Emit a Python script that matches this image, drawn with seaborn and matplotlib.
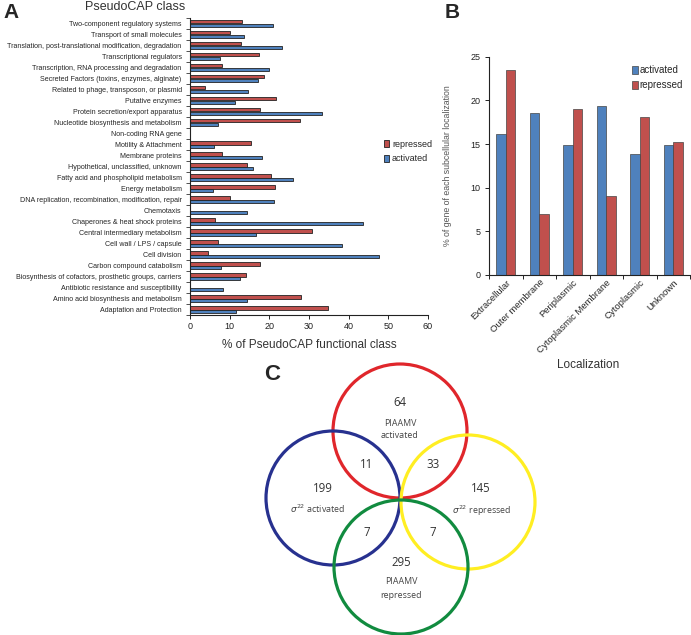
import matplotlib
matplotlib.use("Agg")
import matplotlib.pyplot as plt
from matplotlib.patches import Circle
from matplotlib.ticker import FixedLocator, NullFormatter
import seaborn as sns
import pandas as pd
import numpy as np

# ---------------- data ----------------
categories_A = [
    "Two-component regulatory systems",
    "Transport of small molecules",
    "Translation, post-translational modification, degradation",
    "Transcriptional regulators",
    "Transcription, RNA processing and degradation",
    "Secreted Factors (toxins, enzymes, alginate)",
    "Related to phage, transposon, or plasmid",
    "Putative enzymes",
    "Protein secretion/export apparatus",
    "Nucleotide biosynthesis and metabolism",
    "Non-coding RNA gene",
    "Motility & Attachment",
    "Membrane proteins",
    "Hypothetical, unclassified, unknown",
    "Fatty acid and phospholipid metabolism",
    "Energy metabolism",
    "DNA replication, recombination, modification, repair",
    "Chemotaxis",
    "Chaperones & heat shock proteins",
    "Central intermediary metabolism",
    "Cell wall / LPS / capsule",
    "Cell division",
    "Carbon compound catabolism",
    "Biosynthesis of cofactors, prosthetic groups, carriers",
    "Antibiotic resistance and susceptibility",
    "Amino acid biosynthesis and metabolism",
    "Adaptation and Protection",
]
repressed_A = [13.0, 10.0, 12.8, 17.3, 8.0, 18.6, 3.7, 21.6, 17.6, 27.7, 0.0,
               15.3, 8.0, 14.3, 20.3, 21.4, 10.0, 0.0, 6.3, 30.7, 7.0, 4.5,
               17.6, 14.1, 0.0, 28.1, 34.9]
activated_A = [21.0, 13.5, 23.1, 7.6, 20.0, 17.1, 14.5, 11.3, 33.2, 7.0, 0.0,
               6.1, 18.1, 15.8, 25.9, 5.7, 21.2, 14.3, 43.6, 16.6, 38.2, 47.7,
               7.7, 12.5, 8.3, 14.3, 11.6]
xticks_A = [0, 10, 20, 30, 40, 50, 60]

localization_B = ["Extracellular", "Outer membrane", "Periplasmic",
                  "Cytoplasmic Membrane", "Cytoplasmic", "Unknown"]
activated_B = [16.1, 18.6, 14.9, 19.35, 13.8, 14.85]
repressed_B = [23.5, 7.0, 19.05, 9.0, 18.15, 15.2]
yticks_B = [0, 5, 10, 15, 20, 25]

venn_counts = {"PIAAMV activated": 64, "sigma activated": 199,
               "sigma repressed": 145, "PIAAMV repressed": 295,
               "blue&red": 11, "red&yellow": 33, "blue&green": 7,
               "green&yellow": 7}

# ---------------- style ----------------
sns.set_theme(style="white")
plt.rcParams["font.family"] = ["Liberation Sans", "DejaVu Sans"]

BLUE = "#4F81BD"
RED = "#C0504D"
W, H = 691, 635
fig = plt.figure(figsize=(W / 100, H / 100), dpi=100)


def fx(px):
    return px / W


def fy(py):
    return 1 - py / H


# ---------------- Panel A ----------------
dfA = pd.DataFrame({
    "category": categories_A * 2,
    "value": repressed_A + activated_A,
    "group": ["repressed"] * len(categories_A) + ["activated"] * len(categories_A),
})
axA = fig.add_axes([fx(190), fy(315), (428 - 190) / W, (315 - 18) / H])
sns.barplot(data=dfA, y="category", x="value", hue="group",
            hue_order=["repressed", "activated"],
            palette={"repressed": RED, "activated": BLUE}, saturation=1,
            orient="h", width=0.72, edgecolor="#222222", linewidth=0.6,
            ax=axA, legend=True)
axA.set_xlim(0, 60)
axA.set_xticks(xticks_A)
axA.set_xticklabels([str(t) for t in xticks_A], fontsize=6.5)
axA.tick_params(axis="x", direction="out", length=3, width=0.7, pad=2,
                bottom=True, colors="#222222")
axA.tick_params(axis="y", which="major", length=0, pad=6, labelsize=5.1)
axA.yaxis.set_minor_locator(FixedLocator(np.arange(-0.5, len(categories_A), 1.0)))
axA.yaxis.set_minor_formatter(NullFormatter())
axA.tick_params(axis="y", which="minor", direction="out", length=3, width=0.6,
                left=True, color="#333333")
axA.set_ylabel("")
axA.set_xlabel("% of PseudoCAP functional class", fontsize=8.5, labelpad=6,
               color="#333333")
for s in ["top", "right"]:
    axA.spines[s].set_visible(False)
for s in ["left", "bottom"]:
    axA.spines[s].set_color("#222222")
    axA.spines[s].set_linewidth(0.8)
axA.grid(False)
legA = axA.legend(loc="center left", bbox_to_anchor=(0.78, 0.55), frameon=False,
                  fontsize=6.5, handlelength=0.6, handleheight=0.8,
                  handletextpad=0.3, labelspacing=0.6)
for h in legA.legend_handles:
    h.set_edgecolor("#222222")
    h.set_linewidth(0.6)

fig.text(fx(135), fy(7), "PseudoCAP class", fontsize=9, ha="center",
         va="center", color="#333333")
fig.text(fx(3), fy(12), "A", fontsize=15, fontweight="bold", ha="left",
         va="center")

# ---------------- Panel B ----------------
dfB = pd.DataFrame({
    "loc": localization_B * 2,
    "value": activated_B + repressed_B,
    "group": ["activated"] * len(localization_B) + ["repressed"] * len(localization_B),
})
axB = fig.add_axes([fx(489), fy(275), (690 - 489) / W, (275 - 56.7) / H])
sns.barplot(data=dfB, x="loc", y="value", hue="group",
            hue_order=["activated", "repressed"],
            palette={"activated": BLUE, "repressed": RED}, saturation=1,
            width=0.58, edgecolor="#444444", linewidth=0.5, ax=axB, legend=True)
axB.set_ylim(0, 25)
axB.set_yticks(yticks_B)
axB.set_yticklabels([str(t) for t in yticks_B], fontsize=6.5)
axB.tick_params(axis="y", direction="out", length=3, width=0.7, left=True,
                pad=3, colors="#222222")
axB.tick_params(axis="x", which="major", length=0, pad=2)
axB.xaxis.set_minor_locator(FixedLocator(np.arange(-0.5, len(localization_B), 1.0)))
axB.xaxis.set_minor_formatter(NullFormatter())
axB.tick_params(axis="x", which="minor", direction="out", length=3, width=0.7,
                bottom=True, color="#222222")
axB.set_xticks(range(len(localization_B)))
axB.set_xticklabels(localization_B, rotation=45, ha="right",
                    rotation_mode="anchor", fontsize=6.8)
axB.set_xlabel("Localization", fontsize=8.5, color="#333333", labelpad=0)
axB.xaxis.set_label_coords((588 - 489) / (690 - 489), -(359 - 275) / (275 - 56.7))
axB.set_ylabel("% of gene of each subcellular localization", fontsize=6.3,
               color="#555555")
axB.yaxis.set_label_coords(-(489 - 452) / (690 - 489), 0.5)
for s in ["top", "right"]:
    axB.spines[s].set_visible(False)
for s in ["left", "bottom"]:
    axB.spines[s].set_color("#222222")
    axB.spines[s].set_linewidth(0.8)
axB.grid(False)
legB = axB.legend(loc="upper left", bbox_to_anchor=((623 - 489) / 201, 1.0),
                  frameon=False, fontsize=7, handlelength=0.6,
                  handleheight=0.8, handletextpad=0.2, labelspacing=0.5)
for h in legB.legend_handles:
    h.set_edgecolor("#444444")
    h.set_linewidth(0.5)
fig.text(fx(445), fy(12), "B", fontsize=15, fontweight="bold", ha="left",
         va="center")

# ---------------- Panel C (Venn) ----------------
axC = fig.add_axes([0, 0, 1, 1], zorder=-1)
axC.set_xlim(0, W)
axC.set_ylim(H, 0)
axC.axis("off")
circles = [((400, 431), "#E0262B"), ((333, 498), "#27318F"),
           ((468, 502), "#FFEE22"), ((401, 567), "#118B3F")]
R = 67
for (cx, cy), col in circles:
    axC.add_patch(Circle((cx, cy), R, fill=False, edgecolor=col, linewidth=2.3))

cfont = ["Open Sans", "DejaVu Sans"]
num_kw = dict(fontsize=8.3, color="#333333", ha="center", va="center",
              family=cfont)
lab_kw = dict(fontsize=6.4, color="#444444", ha="center", va="center",
              family=cfont)
axC.text(400, 403, str(venn_counts["PIAAMV activated"]), **num_kw)
axC.text(400, 423, "PIAAMV", **lab_kw)
axC.text(400, 436, "activated", **lab_kw)
axC.text(367, 465, str(venn_counts["blue&red"]), **num_kw)
axC.text(433, 465, str(venn_counts["red&yellow"]), **num_kw)
axC.text(323, 489, str(venn_counts["sigma activated"]), **num_kw)
axC.text(318, 509, r"$\sigma^{22}$ activated", **lab_kw)
axC.text(481, 489, str(venn_counts["sigma repressed"]), **num_kw)
axC.text(482, 511, r"$\sigma^{22}$ repressed", **lab_kw)
axC.text(367, 532, str(venn_counts["blue&green"]), **num_kw)
axC.text(433, 532, str(venn_counts["green&yellow"]), **num_kw)
axC.text(401, 562, str(venn_counts["PIAAMV repressed"]), **num_kw)
axC.text(401, 582, "PIAAMV", **lab_kw)
axC.text(401, 596, "repressed", **lab_kw)
fig.text(fx(264), fy(374), "C", fontsize=16, fontweight="bold", ha="left",
         va="center")

fig.savefig("out.png", dpi=100)
